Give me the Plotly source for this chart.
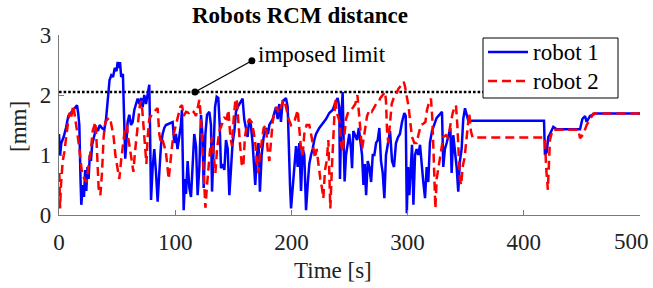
import plotly.graph_objects as go

# ---------------- data ----------------
robot1_time = [
    0, 1, 2, 4, 6, 8, 10, 12, 14, 15.5, 16.5, 17.5, 18.5, 19.2, 20.5, 21.5, 22.5, 23.5, 24.5, 25.5,
    26.5, 27.5, 28.5, 30, 32, 33.5, 35, 37, 39, 40.5, 42, 43.5, 45, 46.5, 48, 49.5, 50.5, 51.5, 52.5, 53.5,
    55, 56, 57, 58, 59.1, 60.5, 62, 63.4, 64.8, 66.3, 67.7, 69.1, 70.6, 72, 73.4, 74.9, 76.3, 77.7, 78.3, 79.2,
    80.6, 82, 83.5, 84.9, 86.3, 87.8, 89.2, 90.6, 92, 94.9, 97.8, 99.2, 100.6, 102, 103.5, 104.9, 105.8, 106.6, 107.3, 108.4,
    109.3, 110.7, 112.2, 113.6, 115, 116.4, 117.9, 119.3, 120.8, 122.2, 123.6, 124.5, 126, 127.4, 129.4, 130.8, 131.7, 132.8, 134.3, 135.7,
    137.1, 138.3, 139.4, 140.9, 142.3, 143.7, 145.2, 146.6, 148, 149.4, 150.9, 152.3, 153.7, 155.1, 156.6, 158, 159.4, 160.9, 162.3, 163.7,
    165.1, 166.6, 168, 168.9, 170.3, 171.7, 172.9, 174.4, 176.1, 178.1, 179.9, 181, 183.9, 186.7, 188.2, 189.6, 191, 192.5, 193.9, 195.3,
    196.8, 197.6, 198.8, 199.7, 201.1, 202.5, 204, 205.4, 206.8, 208.3, 209.7, 211.1, 212.6, 214, 215.4, 216.9, 218.3, 219.7, 221.2, 224,
    226.9, 229.8, 232.6, 235.5, 238.4, 239.8, 241.2, 241.8, 243, 244.1, 245, 245.8, 247, 248.4, 249.8, 251.3, 252.2, 253.3, 255.1, 256.5,
    258, 259.4, 260.8, 262, 263.1, 264.3, 265.7, 267.1, 268.6, 270, 271.4, 272.9, 274.3, 275.7, 277.1, 278.6, 280, 281.4, 282.9, 284.9,
    286.6, 288.3, 290, 291.8, 293.4, 295.2, 297.2, 298.4, 299.3, 300.4, 301.5, 302.9, 303.8, 305, 306.4, 307.8, 309.2, 310.7, 312.1, 313.5,
    315, 316.4, 317.8, 319.2, 321, 323, 325, 327.3, 329.6, 330.7, 332.1, 333.6, 335.3, 336.8, 337.9, 339.3, 341.1, 342.2, 343.6, 345,
    346.5, 347.9, 349.4, 350.8, 352.2, 417.4, 418.2, 419.7, 421.1, 422.5, 425.4, 428.3, 448.4, 450.4, 452.7, 454.1, 457, 461.3, 500,
]
robot1_dist = [
    1.35, 1.0, 1.2, 1.3, 1.45, 1.65, 1.7, 1.75, 1.8, 1.83, 1.7, 1.5, 0.6, 0.17, 0.5, 0.3, 0.75, 0.4, 0.8, 0.6,
    1.0, 0.9, 1.17, 1.3, 1.45, 1.4, 1.5, 1.45, 1.42, 1.6, 1.9, 2.25, 2.33, 2.3, 2.45, 2.4, 2.55, 2.45, 2.55, 2.3,
    2.35, 1.5, 0.94, 1.2, 1.55, 1.67, 1.5, 1.55, 1.75, 1.85, 1.94, 1.85, 1.95, 1.8, 2.0, 1.85, 2.0, 2.17, 1.5, 0.25,
    0.8, 1.1, 0.7, 0.22, 0.7, 1.17, 1.35, 1.45, 1.5, 1.52, 1.55, 1.2, 1.35, 1.1, 1.3, 1.5, 1.75, 0.8, 0.08, 0.6,
    0.35, 0.9, 0.45, 0.3, 0.9, 1.35, 1.15, 0.33, 0.8, 1.67, 1.3, 0.45, 1.35, 1.67, 1.72, 1.5, 0.39, 0.9, 1.8, 1.97,
    1.95, 1.5, 0.78, 0.85, 0.75, 1.25, 1.1, 0.33, 0.8, 1.2, 1.4, 1.72, 1.8, 1.85, 1.88, 1.94, 1.6, 1.45, 1.3, 1.6,
    1.5, 1.2, 0.7, 0.5, 1.0, 1.2, 0.39, 1.0, 1.3, 1.45, 1.35, 1.5, 1.6, 1.8, 1.6, 1.85, 1.55, 1.9, 1.92, 1.95,
    1.8, 1.1, 0.5, 0.11, 0.45, 0.8, 1.15, 0.8, 1.2, 0.4, 1.1, 1.0, 0.08, 0.5, 0.85, 1.0, 1.1, 1.25, 1.35, 1.45,
    1.52, 1.6, 1.7, 1.75, 1.9, 1.95, 1.8, 0.6, 1.6, 2.05, 1.2, 0.56, 1.0, 1.2, 1.35, 1.1, 0.78, 1.4, 1.3, 1.25,
    1.45, 1.2, 1.0, 0.5, 0.85, 0.33, 0.9, 0.8, 0.55, 1.0, 1.0, 1.2, 1.25, 1.45, 0.9, 0.7, 0.28, 1.0, 1.2, 1.4,
    0.9, 0.8, 1.2, 1.3, 1.35, 1.55, 1.7, 1.65, 0.03, 0.8, 0.33, 0.8, 1.17, 0.17, 1.0, 1.1, 1.0, 1.17, 0.8, 0.55,
    0.28, 0.8, 0.55, 1.2, 1.4, 1.5, 1.62, 1.67, 1.72, 0.8, 1.1, 1.2, 1.35, 1.45, 0.7, 1.33, 1.0, 0.8, 0.39, 0.9,
    1.1, 1.6, 1.78, 1.67, 1.57, 1.57, 1.0, 1.05, 1.3, 1.35, 1.47, 1.43, 1.43, 1.6, 1.65, 1.55, 1.65, 1.69, 1.69,
]

robot2_time = [
    0.3, 0.9, 1.7, 3.2, 4.6, 6, 7.5, 8.9, 10.3, 12.3, 14, 15.5, 16.9, 18.4, 19.8, 21.8, 23.8, 25.5, 27.5, 29,
    31.3, 32.4, 34.1, 35.6, 37, 38.4, 39.9, 41.9, 43.9, 45.6, 47, 48.5, 49.9, 51.9, 53.4, 54.8, 56.8, 58.5, 59.1, 61.1,
    62.8, 64, 65.4, 66.8, 68.3, 69.7, 71.1, 72.6, 74, 75.2, 76.3, 77.7, 80.6, 83.5, 84.9, 86.3, 87.8, 89.2, 90.6, 92,
    94.4, 95.9, 97.3, 98.7, 100.7, 102.7, 104.4, 105.9, 107.3, 109.3, 111.6, 113.6, 115.9, 117.9, 119.3, 120.8, 122.2, 123.6, 124.8, 126,
    127.4, 128.8, 130.3, 131.7, 133.1, 134.6, 136, 138, 140, 142.3, 144.3, 145.8, 147.5, 148.9, 150.3, 151.7, 152.9, 154.3, 155.7, 157.2,
    158.6, 160, 161.7, 163.7, 165.7, 167.4, 168.9, 170.3, 171.5, 172.9, 174.4, 176.1, 178.1, 179.5, 181, 182.4, 183.9, 185.3, 187.3, 189,
    190.4, 191.9, 193.9, 195.9, 197.6, 199.7, 202.5, 205.4, 206.8, 208.3, 209.7, 211.1, 213.1, 215.4, 217.4, 218.9, 220.3, 221.7, 223.2, 224.9,
    226.3, 227.5, 228.9, 230.4, 231.8, 232.6, 233.5, 234.9, 236.3, 237.7, 239.2, 240.5, 241.5, 242.7, 244.1, 245.5, 247, 249, 251.3, 253.3,
    255, 256.8, 257.9, 259.4, 260.8, 262, 263.4, 265.1, 267.1, 269.1, 270.9, 272.9, 274.9, 276.6, 278.6, 280.6, 281.4, 282.3, 283.4, 284.9,
    286.3, 288, 290, 292, 293.7, 295.4, 296.6, 297.7, 299.2, 300.9, 302.3, 303.8, 305.8, 307.8, 309.5, 311.5, 313.5, 315.3, 316.7, 318.1,
    320.1, 321.3, 322.4, 323.9, 325, 326.7, 328.7, 330.7, 333, 335, 336.8, 338.8, 340.5, 341.6, 342.8, 343.9, 345, 346.2, 347.3, 349,
    350.5, 351.9, 353, 354.5, 355.9, 418.2, 419.2, 420.7, 421.8, 422.5, 424.8, 447, 448.4, 451.3, 454.1, 457, 459.9, 500,
]
robot2_dist = [
    0.7, 0.11, 0.5, 0.9, 1.05, 1.3, 1.5, 1.7, 1.6, 1.83, 1.55, 1.4, 1.2, 0.9, 0.7, 0.6, 0.55, 0.85, 1.1, 1.4,
    1.55, 1.2, 0.45, 0.33, 0.7, 1.3, 1.55, 1.6, 1.62, 1.45, 1.3, 1.0, 0.8, 0.6, 0.9, 1.15, 1.45, 1.5, 1.35, 1.1,
    0.9, 0.72, 1.05, 1.35, 1.65, 1.85, 1.9, 1.55, 1.1, 0.85, 1.3, 1.6, 1.7, 1.75, 1.78, 1.35, 1.2, 1.25, 1.15, 1.05,
    0.6, 0.95, 1.15, 1.35, 1.5, 1.7, 1.8, 1.83, 1.65, 1.72, 1.7, 1.75, 1.72, 1.65, 1.8, 1.92, 1.6, 1.1, 0.6, 0.12,
    0.5, 0.8, 1.15, 1.3, 1.0, 0.7, 1.1, 1.4, 1.5, 1.62, 1.6, 1.75, 1.3, 1.15, 1.6, 1.9, 1.94, 1.5, 1.2, 0.85,
    0.8, 1.3, 1.5, 1.6, 1.55, 1.4, 1.2, 0.9, 0.7, 1.0, 1.2, 1.45, 1.5, 1.1, 0.9, 1.3, 1.55, 1.7, 1.8, 1.7,
    1.75, 1.85, 1.92, 1.75, 1.6, 1.5, 1.55, 1.75, 1.4, 1.1, 1.0, 1.35, 1.5, 1.5, 1.3, 1.15, 0.95, 1.1, 0.85, 0.6,
    0.45, 0.28, 0.75, 0.9, 1.25, 0.5, 0.11, 0.8, 1.5, 1.94, 1.7, 1.6, 1.55, 1.2, 1.05, 1.3, 1.6, 1.72, 1.75, 1.8,
    1.85, 2.0, 1.75, 1.4, 1.1, 1.25, 1.45, 1.65, 1.75, 1.72, 1.78, 1.85, 1.88, 1.95, 2.0, 2.05, 1.9, 1.4, 1.2, 1.6,
    1.85, 1.95, 2.0, 2.1, 2.15, 2.2, 2.22, 2.15, 2.0, 1.8, 1.55, 1.3, 1.2, 1.2, 1.35, 1.5, 1.52, 1.55, 1.75, 1.85,
    1.94, 1.6, 1.0, 0.11, 0.6, 0.8, 1.05, 1.3, 1.33, 1.28, 1.5, 1.7, 1.8, 1.83, 1.5, 1.0, 0.6, 0.5, 0.8, 0.95,
    1.2, 1.5, 1.7, 1.4, 1.29, 1.29, 0.8, 0.42, 1.0, 1.25, 1.42, 1.42, 1.28, 1.35, 1.5, 1.6, 1.69, 1.69,
]

series_names = ["robot 1", "robot 2"]
series_colors = ["#0000ff", "#ff0000"]

limit_value = 2.05
limit_span = [0, 470]
limit_label = "imposed limit"
arrow_point = (117, 2.05)      # where the label arrow touches the limit line
arrow_tail = (166, 2.57)       # label end of the arrow
label_pos = (169.5, 2.68)

x_ticks = [0, 100, 200, 300, 400, 500]
x_tick_text = ["0", "100", "200", "300", "400", ""]   # last label placed inside the page below
last_x_label = "500"
y_ticks = [0, 1, 2, 3]

# ---------------- figure ----------------
FONT = "Liberation Serif"
AX = "#7a7a7a"
FS = 23
L, R, T, B = 59, 13, 35, 73          # margins (px)
W, H = 653, 288
PW, PH = W - L - R, H - T - B


def px_x(p):  # pixel column -> paper x
    return (p - L) / PW


def px_y(p):  # pixel row -> paper y
    return (H - B - p) / PH


fig = go.Figure()
fig.add_trace(go.Scatter(
    x=limit_span, y=[limit_value] * 2, mode="lines", showlegend=False, hoverinfo="skip",
    line=dict(color="black", width=2.6, dash="2.6px,2px")))
fig.add_trace(go.Scatter(
    x=robot1_time, y=robot1_dist, mode="lines", name=series_names[0], showlegend=False,
    line=dict(color=series_colors[0], width=2.5)))
fig.add_trace(go.Scatter(
    x=robot2_time, y=robot2_dist, mode="lines", name=series_names[1], showlegend=False,
    line=dict(color=series_colors[1], width=2.5, dash="9px,5px")))
fig.add_trace(go.Scatter(
    x=[arrow_point[0], arrow_tail[0]], y=[arrow_point[1], arrow_tail[1]],
    mode="lines+markers", showlegend=False, hoverinfo="skip",
    line=dict(color="black", width=1.3), marker=dict(color="black", size=7)))

fig.add_annotation(x=label_pos[0], y=label_pos[1], xref="x", yref="y", text=limit_label,
                   showarrow=False, xanchor="left", yanchor="middle",
                   font=dict(family=FONT, size=FS, color="black"))

fig.add_annotation(x=px_x(300), y=px_y(16), xref="paper", yref="paper",
                   text="<b>Robots RCM distance</b>", showarrow=False,
                   xanchor="center", yanchor="middle",
                   font=dict(family=FONT, size=FS, color="black"))
fig.add_annotation(x=px_x(333), y=px_y(270), xref="paper", yref="paper",
                   text="Time [s]", showarrow=False, xanchor="center", yanchor="middle",
                   font=dict(family=FONT, size=FS, color="#222"))
fig.add_annotation(x=px_x(18), y=px_y(127), xref="paper", yref="paper",
                   text="[mm]", showarrow=False, textangle=-90, xanchor="center", yanchor="middle",
                   font=dict(family=FONT, size=FS, color="#222"))
# last x tick label, kept inside the window like the reference
fig.add_annotation(x=x_ticks[-1], xref="x", y=px_y(241), yref="paper", text=last_x_label,
                   showarrow=False, xanchor="right", xshift=11, yanchor="middle",
                   font=dict(family=FONT, size=FS, color="#222"))

# legend box (MATLAB-style, tight)
box = dict(x0=483, x1=618, y0=38, y1=98)
fig.add_shape(type="rect", xref="paper", yref="paper",
              x0=px_x(box["x0"]), x1=px_x(box["x1"]), y0=px_y(box["y1"]), y1=px_y(box["y0"]),
              line=dict(color="black", width=1), fillcolor="white", layer="above")
entry_rows = [52, 81]
dashes = ["solid", "9px,5px"]
for name, color, dash, row in zip(series_names, series_colors, dashes, entry_rows):
    fig.add_shape(type="line", xref="paper", yref="paper",
                  x0=px_x(488), x1=px_x(528), y0=px_y(row), y1=px_y(row),
                  line=dict(color=color, width=2.5, dash=dash), layer="above")
    fig.add_annotation(x=px_x(531), y=px_y(row), xref="paper", yref="paper", text=name,
                       showarrow=False, xanchor="left", yanchor="middle",
                       font=dict(family=FONT, size=FS, color="black"))

axis_common = dict(showgrid=False, zeroline=False, showline=True, linecolor=AX, linewidth=1.3,
                   ticks="inside", ticklen=5, tickwidth=1.2, tickcolor=AX,
                   tickfont=dict(family=FONT, size=FS, color="#222"), mirror=False)
fig.update_xaxes(range=[0, 500], tickvals=x_ticks, ticktext=x_tick_text,
                 ticklabelstandoff=6, **axis_common)
fig.update_yaxes(range=[0, 3], tickvals=y_ticks, ticktext=[str(v) for v in y_ticks],
                 ticklabelstandoff=2, **axis_common)

fig.update_layout(
    width=W, height=H,
    margin=dict(l=L, r=R, t=T, b=B, autoexpand=False),
    paper_bgcolor="white", plot_bgcolor="white",
    font=dict(family=FONT, size=FS, color="black"),
    showlegend=False,
)

fig.write_html("out.html", config={"displayModeBar": False},
               post_script="document.body.style.margin='0';document.body.style.padding='0';")
